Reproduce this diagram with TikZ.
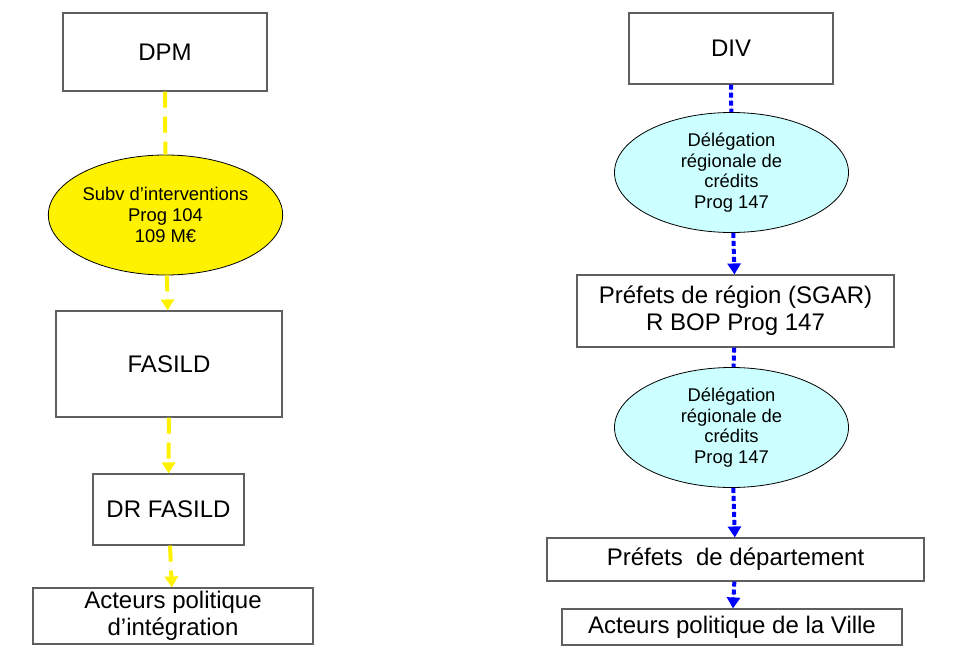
\documentclass[tikz,border=0pt]{standalone}
\usepackage{fontspec}
\setmainfont{Liberation Sans}
\usepackage{xcolor}
\usetikzlibrary{shapes.geometric,arrows.meta,positioning}

\definecolor{boxline}{RGB}{95,95,95}
\definecolor{paleblue}{RGB}{204,255,255}

\begin{document}
\begin{tikzpicture}[x=1pt, y=-1pt, >={Triangle[width=13pt,length=11pt]}]
    \tikzstyle{block} = [rectangle, draw=boxline, line width=1.1pt, fill=white, inner sep=0pt, align=center, font=\fontsize{24}{27}\selectfont]
    \tikzstyle{bubble} = [ellipse, draw=black, line width=0.8pt, inner sep=0pt, minimum width=234pt, minimum height=120pt, align=center, font=\fontsize{18.4}{20.7}\selectfont]
    \tikzstyle{yarrow} = [draw=yellow, fill=yellow, line width=4pt, dash pattern=on 16pt off 9pt]
    \tikzstyle{barrow} = [draw=blue, fill=blue, line width=4pt, dash pattern=on 5pt off 3pt]

    \useasboundingbox (0,0) rectangle (955,669);

    % left column
    \node[block, minimum width=204pt, minimum height=78pt] (dpm) at (165,52) {DPM};
    \node[bubble, fill=yellow] (subv) at (165.5,215) {Subv d’interventions\\Prog 104\\109 M€};
    \node[block, minimum width=226pt, minimum height=106pt] (fasild) at (169,364) {FASILD};
    \node[block, minimum width=151pt, minimum height=71pt] (drfasild) at (168.5,509.5) {DR FASILD};
    \node[block, minimum width=280pt, minimum height=56pt] (actint) at (173,616) {Acteurs politique\\d’intégration};

    % right column
    \node[block, minimum width=204pt, minimum height=71pt] (div) at (731,48.5) {DIV};
    \node[bubble, fill=paleblue] (deleg1) at (731.5,172.5) {Délégation\\régionale de\\crédits\\Prog 147};
    \node[block, minimum width=317pt, minimum height=72pt] (prefreg) at (735.5,311) {Préfets de région (SGAR)\\R BOP Prog 147};
    \node[bubble, fill=paleblue] (deleg2) at (731.5,427.5) {Délégation\\régionale de\\crédits\\Prog 147};
    \node[block, minimum width=377pt, minimum height=43pt] (prefdep) at (735.5,559.5) {Préfets\ \ de département};
    \node[block, minimum width=340pt, minimum height=36pt] (actville) at (732,627) {Acteurs politique de la Ville};

    \draw[yarrow] (dpm) -- (subv);
    \draw[yarrow, ->] (subv) -- (fasild);
    \draw[yarrow, ->] (fasild) -- (drfasild);
    \draw[yarrow, ->] (drfasild) -- (actint);

    \draw[barrow] (div) -- (deleg1);
    \draw[barrow, ->] (deleg1) -- (prefreg);
    \draw[barrow] (prefreg) -- (deleg2);
    \draw[barrow, ->] (deleg2) -- (prefdep);
    \draw[barrow, ->] (prefdep) -- (actville);
\end{tikzpicture}
\end{document}
